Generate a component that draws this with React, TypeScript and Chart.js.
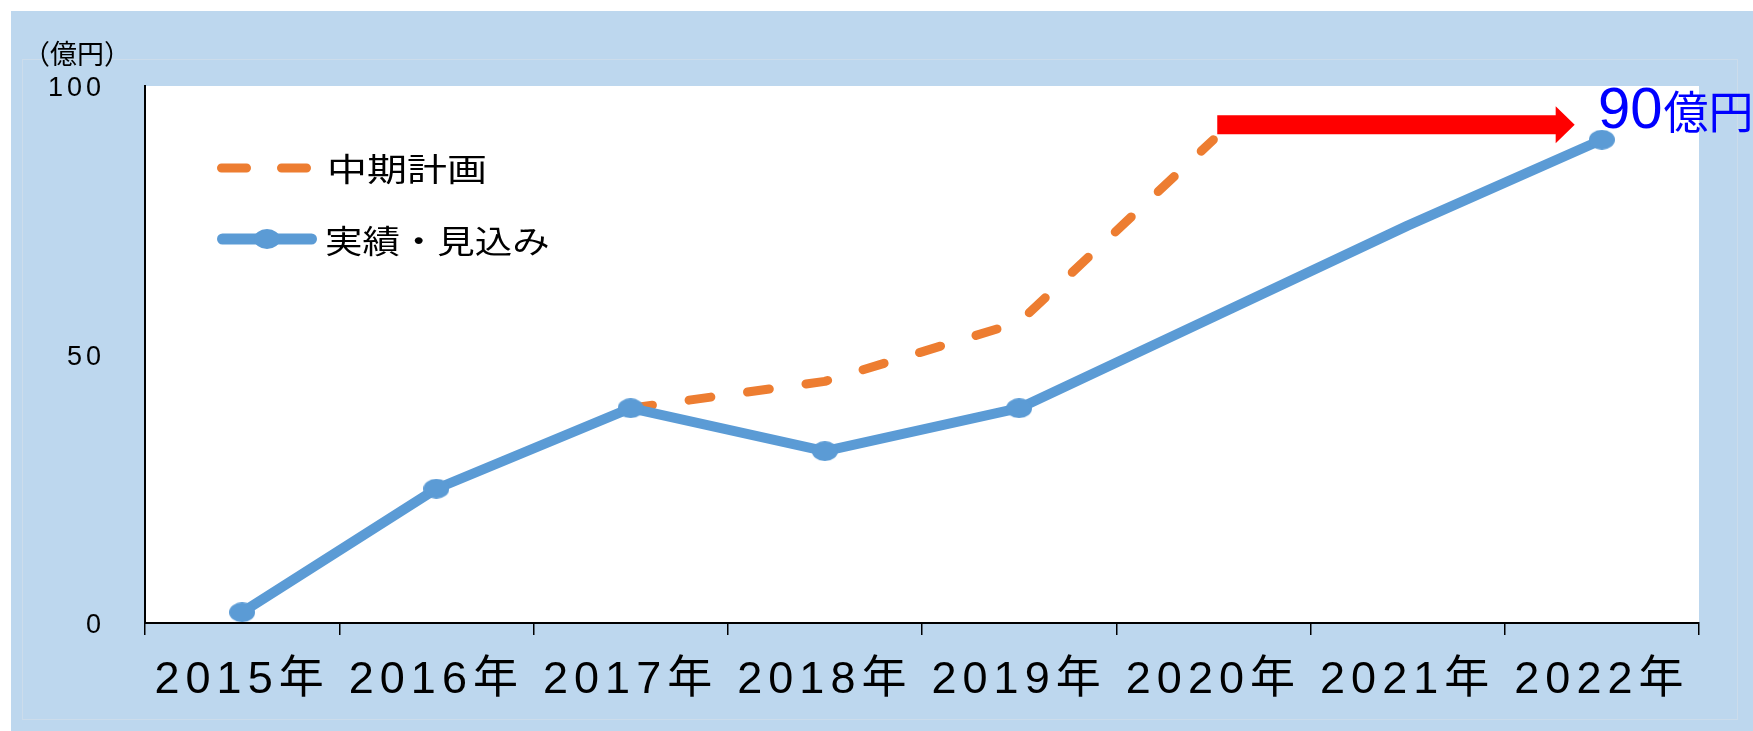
import React, { useEffect, useRef } from 'react';
import { Chart, registerables } from 'chart.js';

Chart.register(...registerables);

// ---- data ----
const YEARS = ['2015年', '2016年', '2017年', '2018年', '2019年', '2020年', '2021年', '2022年'];
const ACTUAL = [2, 25, 40, 32, 40, 57, 74, 90];
const ACTUAL_MARKER = [true, true, true, true, true, false, false, true];
const PLAN: (number | null)[] = [null, null, 40, 45, 56, 90, null, null];
const Y_TICKS = [0, 50, 100];
const Y_MIN = 0;
const Y_MAX = 100;
const Y_UNIT = '（億円）';
const LEGEND_PLAN = '中期計画';
const LEGEND_ACTUAL = '実績・見込み';
const TARGET_VALUE = 90;
const TARGET_INDEX = 7;
const TARGET_UNIT = '億円';
const ARROW_FROM = 5.02;
const ARROW_TO = 6.86;
const ARROW_LEVEL = 92.8;

// ---- styles ----
const BG = '#BDD7EE';
const BLUE = '#5B9BD5';
const ORANGE = '#ED7D31';
const LATIN = '"Liberation Sans", "Noto Sans CJK JP", sans-serif';
const CJK = '"Noto Sans CJK JP", sans-serif';

function spaced(px: number, font: any) {
  return (c: any) => {
    const ctx = c.chart.ctx as any;
    if ('letterSpacing' in ctx) ctx.letterSpacing = px + 'px';
    return font;
  };
}

export default function App() {
  const ref = useRef<HTMLCanvasElement>(null);

  useEffect(() => {
    const canvas = ref.current!;
    const dot = document.createElement('canvas');
    dot.width = 26;
    dot.height = 20;
    const dctx = dot.getContext('2d')!;
    dctx.fillStyle = BLUE;
    dctx.beginPath();
    dctx.ellipse(13, 10, 13, 10, 0, 0, Math.PI * 2);
    dctx.fill();

    const decor = {
      id: 'decor',
      beforeDraw(chart: any) {
        const { ctx, chartArea: a, width, height } = chart;
        ctx.save();
        ctx.strokeStyle = '#CCDCEB';
        ctx.lineWidth = 1;
        ctx.strokeRect(11.5, 48.5, width - 27, height - 60);
        ctx.fillStyle = '#FFFFFF';
        ctx.fillRect(a.left, a.top, a.right - a.left, a.bottom - a.top);
        ctx.restore();
      },
      afterDatasetsDraw(chart: any) {
        const { ctx } = chart;
        const xs = chart.scales.x;
        const ys = chart.scales.y;
        const x0 = xs.getPixelForValue(ARROW_FROM);
        const x1 = xs.getPixelForValue(ARROW_TO);
        const y = ys.getPixelForValue(ARROW_LEVEL);
        const body = 9.5;
        const head = 18.5;
        const headLen = 19;
        ctx.save();
        ctx.fillStyle = '#FF0000';
        ctx.beginPath();
        ctx.moveTo(x0, y - body);
        ctx.lineTo(x1 - headLen, y - body);
        ctx.lineTo(x1 - headLen, y - head);
        ctx.lineTo(x1, y);
        ctx.lineTo(x1 - headLen, y + head);
        ctx.lineTo(x1 - headLen, y + body);
        ctx.lineTo(x0, y + body);
        ctx.closePath();
        ctx.fill();
        ctx.restore();
      },
      afterDraw(chart: any) {
        const { ctx, chartArea: a } = chart;
        const xs = chart.scales.x;
        const ys = chart.scales.y;
        ctx.save();
        if ('letterSpacing' in ctx) ctx.letterSpacing = '0px';

        // unit title
        ctx.fillStyle = '#000';
        ctx.font = '27px ' + CJK;
        ctx.textAlign = 'center';
        ctx.textBaseline = 'middle';
        ctx.fillText(Y_UNIT, 66, 43);

        // legend
        const lx = a.left + 72;
        const ly1 = a.top + 82;
        const ly2 = a.top + 153;
        ctx.lineCap = 'round';
        ctx.strokeStyle = ORANGE;
        ctx.lineWidth = 9;
        ctx.setLineDash([25, 35]);
        ctx.beginPath();
        ctx.moveTo(lx + 4.5, ly1);
        ctx.lineTo(lx + 94, ly1);
        ctx.stroke();
        ctx.setLineDash([]);
        ctx.strokeStyle = BLUE;
        ctx.lineWidth = 11;
        ctx.beginPath();
        ctx.moveTo(lx + 5.5, ly2);
        ctx.lineTo(lx + 94.5, ly2);
        ctx.stroke();
        ctx.drawImage(dot, lx + 50 - 13, ly2 - 10);

        ctx.fillStyle = '#000';
        ctx.font = '32px ' + CJK;
        ctx.textAlign = 'left';
        ctx.textBaseline = 'middle';
        ctx.save();
        ctx.translate(lx + 110, ly1 + 1);
        ctx.scale(1.25, 1);
        ctx.fillText(LEGEND_PLAN, 0, 0);
        ctx.restore();
        ctx.save();
        ctx.translate(lx + 108, ly2 + 2);
        ctx.scale(1.17, 1);
        ctx.fillText(LEGEND_ACTUAL, 0, 0);
        ctx.restore();

        // target label
        const px = xs.getPixelForValue(TARGET_INDEX) - 4;
        const py = ys.getPixelForValue(TARGET_VALUE) - 12;
        ctx.fillStyle = '#0000FF';
        ctx.textBaseline = 'alphabetic';
        ctx.font = '58px "Liberation Sans", sans-serif';
        const num = String(TARGET_VALUE);
        ctx.fillText(num, px, py);
        const w = ctx.measureText(num).width;
        ctx.font = '45px ' + CJK;
        ctx.fillText(TARGET_UNIT, px + w + 1, py + 1);
        ctx.restore();
      },
    };

    const chart = new Chart(canvas, {
      type: 'line',
      data: {
        labels: YEARS,
        datasets: [
          {
            label: LEGEND_ACTUAL,
            data: ACTUAL,
            borderColor: BLUE,
            backgroundColor: BLUE,
            borderWidth: 10,
            borderCapStyle: 'round',
            borderJoinStyle: 'round',
            tension: 0,
            pointStyle: dot as any,
            pointRadius: ACTUAL_MARKER.map((m) => (m ? 10 : 0)),
            pointHoverRadius: 0,
            order: 0,
          },
          {
            label: LEGEND_PLAN,
            data: PLAN,
            borderColor: ORANGE,
            backgroundColor: ORANGE,
            borderWidth: 9,
            borderDash: [22, 37],
            borderCapStyle: 'round',
            borderJoinStyle: 'round',
            tension: 0,
            pointRadius: 0,
            pointHoverRadius: 0,
            spanGaps: false,
            order: 1,
          },
        ],
      },
      options: {
        responsive: false,
        animation: false,
        events: [],
        layout: { padding: { left: 0, top: 75, right: 54, bottom: 0 } },
        plugins: { legend: { display: false }, tooltip: { enabled: false } },
        scales: {
          x: {
            type: 'category',
            offset: true,
            grid: {
              offset: true,
              drawOnChartArea: false,
              drawTicks: true,
              tickLength: 12,
              color: '#000',
              lineWidth: 1.5,
            },
            border: { display: true, color: '#000', width: 2 },
            ticks: {
              color: '#000',
              padding: 19,
              maxRotation: 0,
              autoSkip: false,
              font: spaced(6, { family: LATIN, size: 45 }) as any,
            },
            afterFit: (s: any) => {
              s.height = 108;
            },
          },
          y: {
            min: Y_MIN,
            max: Y_MAX,
            grid: { drawOnChartArea: false, drawTicks: false },
            border: { display: true, color: '#000', width: 2 },
            ticks: {
              color: '#000',
              padding: 40,
              labelOffset: 3,
              font: spaced(4, { family: LATIN, size: 27 }) as any,
            },
            afterBuildTicks: (s: any) => {
              s.ticks = Y_TICKS.map((v) => ({ value: v }));
            },
            afterFit: (s: any) => {
              s.width = 134;
            },
          },
        },
      },
      plugins: [decor],
    } as any);

    return () => chart.destroy();
  }, []);

  return (
    <div style={{ position: 'absolute', left: 11, top: 11, width: 1742, height: 720, background: BG }}>
      <canvas ref={ref} width={1742} height={720} style={{ display: 'block', width: 1742, height: 720 }} />
    </div>
  );
}
